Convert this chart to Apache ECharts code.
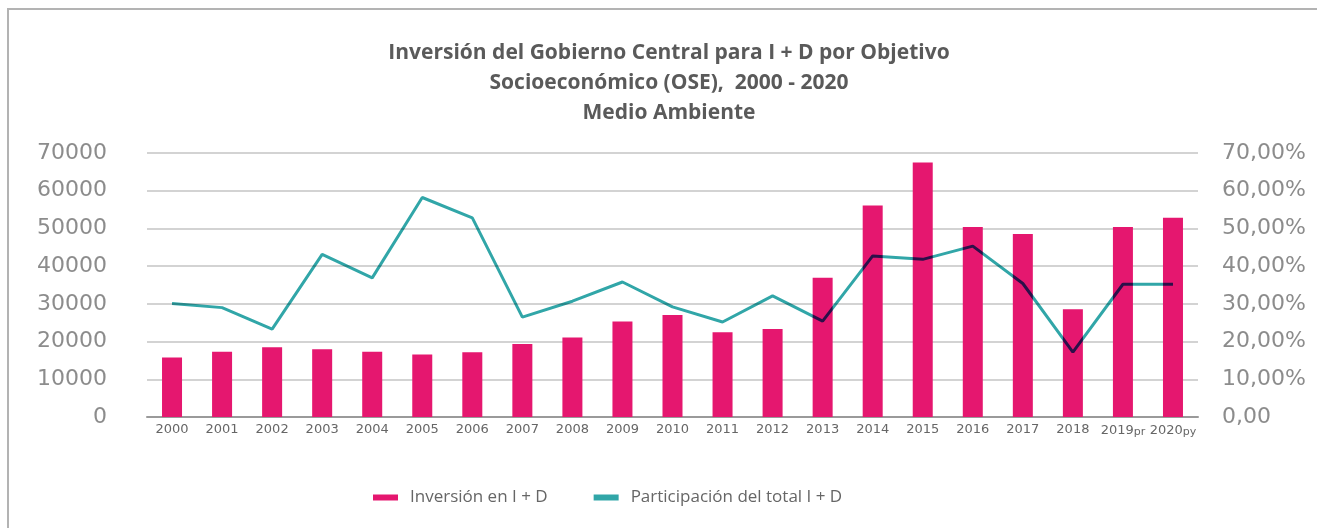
<!DOCTYPE html>
<html>
<head>
<meta charset="utf-8">
<script src="https://cdn.jsdelivr.net/npm/echarts@6/dist/echarts.min.js"></script>
<style>
  html, body { margin: 0; padding: 0; background: #fff; overflow: hidden; width: 1317px; height: 528px; }
  #frame { position: absolute; left: 7px; top: 8px; width: 1308px; height: 518px;
    border-left: 2px solid #b3b3b3; border-top: 2px solid #b3b3b3; }
  #chart { position: absolute; left: 0; top: 0; width: 1317px; height: 528px; }
</style>
</head>
<body>
<div id="frame"></div>
<div id="chart"></div>
<script>
// years (last two are preliminary / projected)
const years = ['2000', '2001', '2002', '2003', '2004', '2005', '2006', '2007', '2008', '2009', '2010',
  '2011', '2012', '2013', '2014', '2015', '2016', '2017', '2018', '2019pr', '2020py'];
// Inversión en I + D
const inversion = [15800, 17300, 18500, 17950, 17300, 16600, 17150, 19350, 21100, 25300, 27050,
  22450, 23350, 36950, 56050, 67450, 50400, 48550, 28550, 50400, 52800];
// Participación del total I + D (%)
const participacion = [30.1, 29.0, 23.3, 43.1, 36.9, 58.2, 52.8, 26.5, 30.7, 35.8, 29.2,
  25.2, 32.1, 25.4, 42.7, 41.8, 45.3, 35.4, 17.2, 35.2, 35.2];

const chart = echarts.init(document.getElementById('chart'));

chart.setOption({
  animation: false,
  title: {
    text: 'Inversión del Gobierno Central para I + D por Objetivo\nSocioeconómico (OSE),  2000 - 2020\nMedio Ambiente',
    left: 664,
    top: 33,
    textAlign: 'center',
    textStyle: {
      fontFamily: 'Open Sans',
      fontSize: 21,
      fontWeight: 'bold',
      color: '#5a5a5a',
      lineHeight: 30,
    },
  },
  color: ['#E5176F', '#31A6A8'],
  legend: {
    bottom: 17,
    left: 368,
    icon: 'rect',
    itemWidth: 25,
    itemHeight: 6,
    itemGap: 46,
    textStyle: { fontFamily: 'Open Sans', fontSize: 17, color: '#666', padding: [0, 0, 0, 7] },
  },
  grid: {
    left: 147,
    right: 119,
    top: 153,
    bottom: 111,
  },
  xAxis: {
    type: 'category',
    data: years,
    axisLine: { lineStyle: { color: '#9a9a9a', width: 2 } },
    axisTick: { show: false },
    axisLabel: {
      interval: 0,
      margin: 6,
      fontFamily: 'DejaVu Sans',
      fontSize: 13,
      color: '#666',
      formatter: (v) => {
        const m = v.match(/^(\d{4})(\D*)$/);
        return m[2] ? m[1] + '{s|' + m[2] + '}' : v;
      },
      rich: { s: { fontFamily: 'DejaVu Sans', fontSize: 11, color: '#666', padding: [4, 0, 0, 0] } },
    },
  },
  yAxis: [
    {
      type: 'value',
      min: 0,
      max: 70000,
      interval: 10000,
      axisLine: { show: false },
      axisTick: { show: false },
      splitLine: { lineStyle: { color: '#c4c4c4', width: 1.5 } },
      axisLabel: {
        margin: 40,
        fontFamily: 'DejaVu Sans',
        fontSize: 22,
        color: '#8c8c8c',
        formatter: (v) => String(v),
      },
    },
    {
      type: 'value',
      min: 0,
      max: 70,
      interval: 10,
      axisLine: { show: false },
      axisTick: { show: false },
      splitLine: { show: false },
      axisLabel: {
        margin: 24,
        fontFamily: 'DejaVu Sans',
        fontSize: 22,
        color: '#8c8c8c',
        formatter: (v) => (v === 0 ? '0,00' : v.toFixed(2).replace('.', ',') + '%'),
      },
    },
  ],
  series: [
    {
      name: 'Inversión en I + D',
      type: 'bar',
      data: inversion,
      barWidth: 20,
      yAxisIndex: 0,
    },
    {
      name: 'Participación del total I + D',
      type: 'line',
      data: participacion,
      yAxisIndex: 1,
      symbol: 'none',
      lineStyle: { width: 3 },
      blendMode: 'multiply',
    },
  ],
});
</script>
</body>
</html>
